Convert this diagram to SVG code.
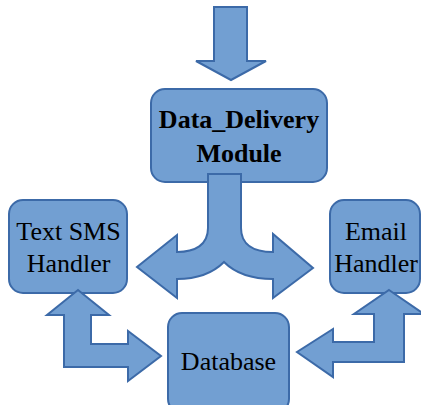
<svg xmlns="http://www.w3.org/2000/svg" width="421" height="405" viewBox="0 0 421 405">
<style>
.shape{fill:#729fd2;stroke:#3c6aa8;stroke-width:2;stroke-linejoin:miter}
.t{font-family:"Liberation Serif","Times New Roman",serif;font-size:26px;fill:#000;text-anchor:middle}
.b{font-weight:bold}
</style>
<rect width="421" height="405" fill="#fff"/>
<g id="data-delivery">
<rect class="shape" x="151" y="89" width="176" height="93" rx="14"/>
<text class="t b" x="239" y="128">Data_Delivery</text>
<text class="t b" x="239" y="162">Module</text>
</g>
<g id="text-sms">
<rect class="shape" x="9" y="200" width="118" height="93" rx="14"/>
<text class="t" x="68.5" y="240">Text SMS</text>
<text class="t" x="68.5" y="272">Handler</text>
</g>
<g id="email">
<rect class="shape" x="330" y="200" width="90" height="93" rx="14"/>
<text class="t" x="376" y="240">Email</text>
<text class="t" x="376" y="272">Handler</text>
</g>
<g id="database">
<rect class="shape" x="168" y="313" width="121" height="100" rx="14"/>
<text class="t" x="228.5" y="370">Database</text>
</g>
<g id="connectors">
<polygon class="shape" points="214,7 247,7 247,61 266,61 231,80 196,61 214,61"/>
<path class="shape" d="M208,174 L241,174 L241,228 C241,245 254,252 273,252 L273,234 L313,268 L273,298 L273,279 C250,279 234,272 224,262 C214,272 200,279 177,279 L177,298 L137,267 L177,235 L177,252 C195,252 208,245 208,228 Z"/>
<polygon class="shape" points="78,290 109,315 91,315 91,344 128,344 128,331 161,356 128,381 128,367 64,367 64,315 47,315"/>
<polygon class="shape" points="389,290 424,314 404,314 404,362 333,362 333,377 297,352 333,329 333,342 374,342 374,314 354,314"/>
</g>
</svg>
